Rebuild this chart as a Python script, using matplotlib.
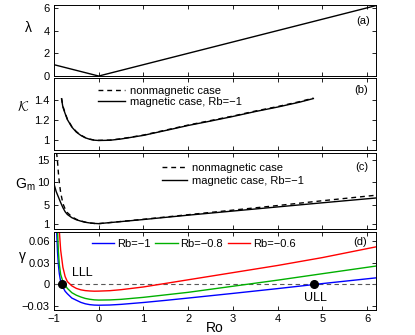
import matplotlib
matplotlib.use("Agg")
import matplotlib.pyplot as plt

plt.rcParams["font.family"] = ["Liberation Sans", "DejaVu Sans"]
plt.rcParams["mathtext.fontset"] = "cm"

# panel (a): lambda
ro_lam = [-1, 0, 6.2]
lam = [1, 0, 6.2]

# panel (b): K
ro_k = [-0.83, -0.8, -0.75, -0.7, -0.6, -0.5, -0.4, -0.3, -0.2, -0.1, 0, 0.25,
        0.5, 1, 1.6, 2, 2.5, 3, 3.5, 4, 4.5, 4.8]
k_nonmag = [1.42, 1.34, 1.27, 1.21, 1.135, 1.085, 1.05, 1.025, 1.01, 1.0, 0.997,
            1.0, 1.013, 1.05, 1.11, 1.15, 1.195, 1.24, 1.29, 1.335, 1.385, 1.42]
k_mag = [1.41, 1.33, 1.265, 1.205, 1.13, 1.08, 1.047, 1.023, 1.008, 0.999, 0.996,
         0.998, 1.011, 1.047, 1.106, 1.146, 1.19, 1.236, 1.285, 1.33, 1.38, 1.415]

# panel (c): G_m
ro_g_nonmag = [-0.95, -0.94, -0.92, -0.9, -0.875, -0.85, -0.8, -0.75, -0.7, -0.6,
               -0.5, -0.4, -0.3, -0.2, -0.1, 0, 1, 2, 3, 4, 5, 6.2]
g_nonmag = [18.5, 16.4, 14.5, 12.0, 9.6, 7.8, 5.4, 4.2, 3.4, 2.5, 1.95, 1.6, 1.33,
            1.15, 1.05, 1.0, 1.95, 2.95, 3.95, 4.95, 6.0, 7.2]
ro_g_mag = [-1, -0.95, -0.9, -0.85, -0.8, -0.75, -0.7, -0.6, -0.5, -0.4, -0.3,
            -0.2, -0.1, 0, 1, 2, 3, 4, 5, 6.2]
g_mag = [9.7, 8.0, 6.8, 5.6, 4.5, 3.6, 3.0, 2.3, 1.85, 1.55, 1.3, 1.15, 1.05, 1.0,
         1.9, 2.85, 3.75, 4.65, 5.55, 6.6]

# panel (d): growth rate gamma for three Rb
ro_gam = [-0.96, -0.95, -0.94, -0.92, -0.9, -0.88, -0.85, -0.8, -0.75, -0.7, -0.6,
          -0.5, -0.4, -0.3, -0.2, -0.1, 0, 0.25, 0.5, 1, 1.5, 2, 3, 4, 5, 6.2]
gam_rb_1 = [0.11, 0.09, 0.075, 0.045, 0.027, 0.015, 0.004, -0.004, -0.0095, -0.013,
            -0.019, -0.022, -0.025, -0.027, -0.0282, -0.0288, -0.029, -0.0287,
            -0.0278, -0.0252, -0.0222, -0.019, -0.0125, -0.0058, 0.0012, 0.0092]
gam_rb_08 = [0.15, 0.125, 0.105, 0.075, 0.045, 0.028, 0.014, 0.004, -0.001, -0.0055,
             -0.0115, -0.015, -0.0175, -0.0195, -0.0207, -0.0215, -0.0218, -0.0216,
             -0.0208, -0.018, -0.0145, -0.011, -0.0025, 0.006, 0.015, 0.0257]
gam_rb_06 = [0.2, 0.17, 0.145, 0.11, 0.09, 0.075, 0.048, 0.024, 0.011, 0.004, -0.002,
             -0.0055, -0.0075, -0.0086, -0.0091, -0.0094, -0.0093, -0.0087, -0.0073,
             -0.0035, 0.0015, 0.0065, 0.0165, 0.0265, 0.0375, 0.0525]
gam_labels = ["Rb=\u22121", "Rb=\u22120.8", "Rb=\u22120.6"]
gam_colors = ["#0000ff", "#00b000", "#ff0000"]
limit_points = [(-0.83, 0.0), (4.82, 0.0)]

xticks = [-1, 0, 1, 2, 3, 4, 5, 6]
dash = (0, (3.5, 2.8))

fig = plt.figure(figsize=(4.15, 3.35), dpi=100)
left, width = 0.130, 0.776
ax_a = fig.add_axes([left, 0.773, width, 0.212])
ax_b = fig.add_axes([left, 0.552, width, 0.215])
ax_c = fig.add_axes([left, 0.316, width, 0.227])
ax_d = fig.add_axes([left, 0.075, width, 0.233])

for ax in (ax_a, ax_b, ax_c, ax_d):
    ax.set_xlim(-1, 6.2)
    ax.set_xticks(xticks)
    ax.tick_params(direction="in", top=True, right=True, length=3, width=0.6,
                   labelsize=8, pad=3)
    for sp in ax.spines.values():
        sp.set_linewidth(0.7)
    if ax is not ax_d:
        ax.tick_params(labelbottom=False)

# (a)
ax_a.plot(ro_lam, lam, color="k", lw=1)
ax_a.set_ylim(0, 6.25)
ax_a.set_yticks([0, 2, 4, 6])
ax_a.set_ylabel("\u03bb", rotation=0, fontsize=10)
ax_a.yaxis.set_label_coords(-0.078, 0.58)
ax_a.text(0.961, 0.78, "(a)", transform=ax_a.transAxes, ha="center", va="center", fontsize=8)

# (b)
ax_b.plot(ro_k, k_nonmag, color="k", lw=1, ls=dash, label="nonmagnetic case")
ax_b.plot(ro_k, k_mag, color="k", lw=1, label="magnetic case, Rb=\u22121")
ax_b.set_ylim(0.9, 1.62)
ax_b.set_yticks([1, 1.2, 1.4])
ax_b.set_yticklabels(["1", "1.2", "1.4"])
ax_b.set_ylabel(r"$\mathcal{K}$", rotation=0, fontsize=10)
ax_b.yaxis.set_label_coords(-0.096, 0.5)
ax_b.text(0.955, 0.83, "(b)", transform=ax_b.transAxes, ha="center", va="center", fontsize=8)
ax_b.legend(loc="upper left", bbox_to_anchor=(0.137, 0.895), frameon=False, fontsize=8,
            handlelength=2.4, handletextpad=0.45, labelspacing=0.1,
            borderpad=0, borderaxespad=0)

# (c)
ax_c.plot(ro_g_nonmag, g_nonmag, color="k", lw=1, ls=dash, label="nonmagnetic case")
ax_c.plot(ro_g_mag, g_mag, color="k", lw=1, label="magnetic case, Rb=\u22121")
ax_c.set_ylim(-0.2, 16.4)
ax_c.set_yticks([1, 5, 10, 15])
ax_c.set_ylabel("G$_\\mathregular{m}$", rotation=0, fontsize=10)
ax_c.yaxis.set_label_coords(-0.087, 0.47)
ax_c.text(0.955, 0.82, "(c)", transform=ax_c.transAxes, ha="center", va="center", fontsize=8)
ax_c.legend(loc="upper left", bbox_to_anchor=(0.335, 0.865), frameon=False, fontsize=8,
            handlelength=2.3, handletextpad=0.45, labelspacing=0.2,
            borderpad=0, borderaxespad=0)

# (d)
ax_d.axhline(0, color="0.35", lw=0.8, ls=(0, (4, 3)))
for vals, lab, col in zip([gam_rb_1, gam_rb_08, gam_rb_06], gam_labels, gam_colors):
    ax_d.plot(ro_gam, vals, color=col, lw=1, label=lab)
for px, py in limit_points:
    ax_d.plot(px, py, "o", color="k", ms=5.5, zorder=5)
ax_d.text(-0.37, 0.016, "LLL", ha="center", va="center", fontsize=9)
ax_d.text(4.85, -0.019, "ULL", ha="center", va="center", fontsize=9)
ax_d.set_ylim(-0.0355, 0.0735)
ax_d.set_yticks([-0.03, 0, 0.03, 0.06])
ax_d.set_yticklabels(["\u22120.03", "0", "0.03", "0.06"])
ax_d.set_xticklabels(["\u22121", "0", "1", "2", "3", "4", "5", "6"])
ax_d.set_ylabel("\u03b3", rotation=0, fontsize=10)
ax_d.yaxis.set_label_coords(-0.099, 0.6)
ax_d.set_xlabel("Ro", fontsize=10, labelpad=-2.5)
ax_d.text(0.952, 0.87, "(d)", transform=ax_d.transAxes, ha="center", va="center", fontsize=8)
ax_d.legend(loc="upper left", bbox_to_anchor=(0.118, 0.91), frameon=False, fontsize=8,
            ncol=3, handlelength=2.0, handletextpad=0.25, columnspacing=0.45,
            borderpad=0, borderaxespad=0)

fig.savefig("out.png", dpi=100)
